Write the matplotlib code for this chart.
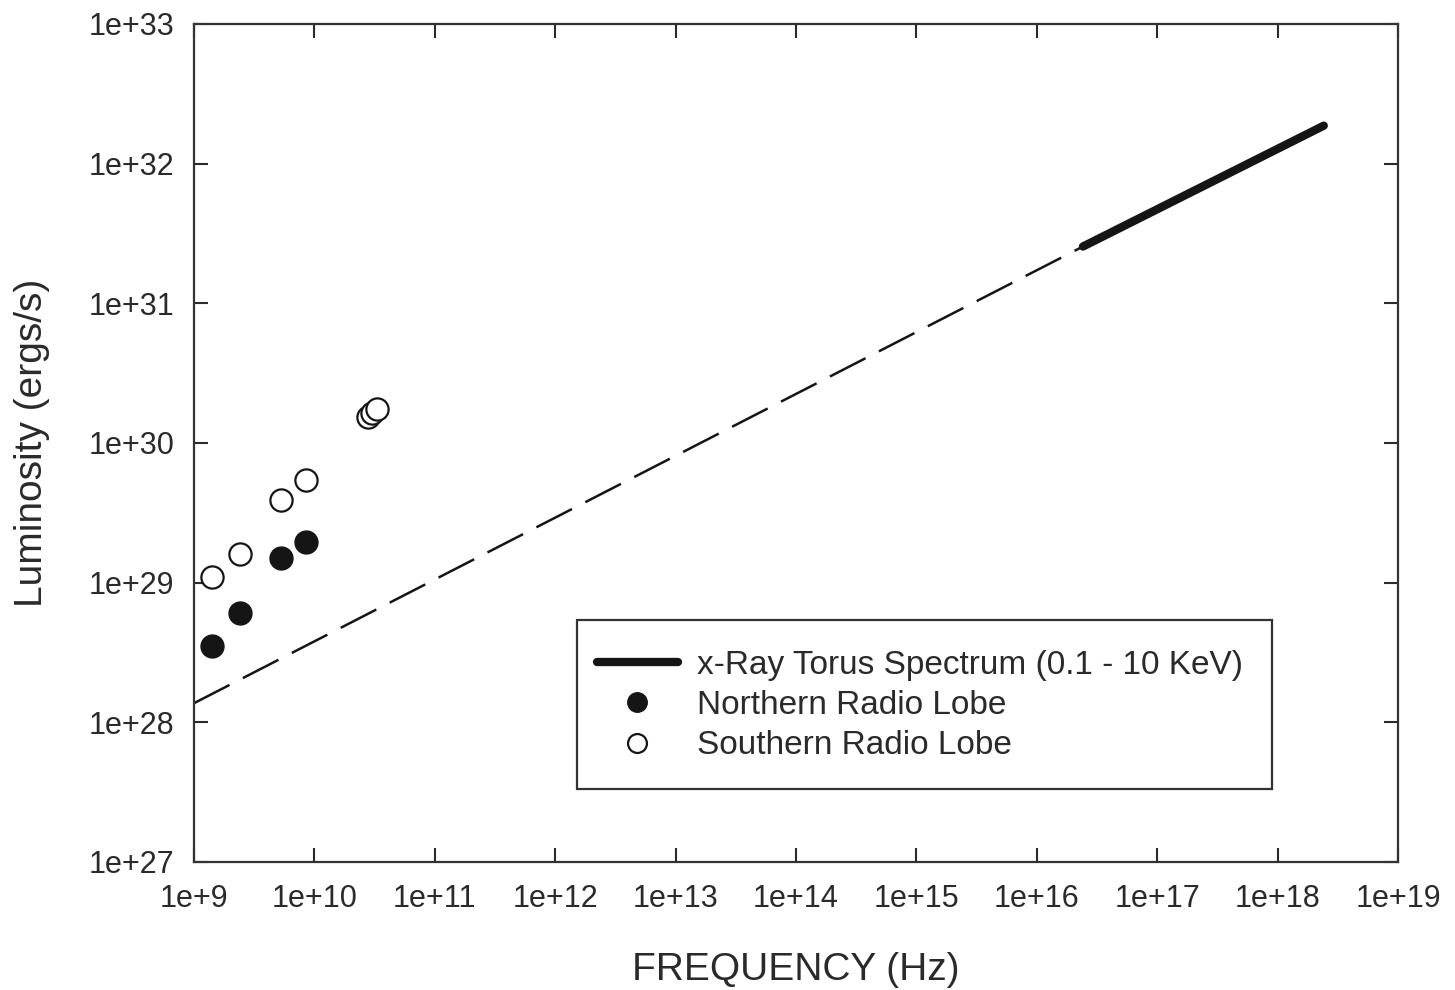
import numpy as np
import matplotlib
matplotlib.use("Agg")
import matplotlib.pyplot as plt
from matplotlib.ticker import FixedLocator, FuncFormatter, NullLocator
from matplotlib.patches import Rectangle

plt.rcParams["font.family"] = ["Liberation Sans", "DejaVu Sans"]

# Radio lobe measurements (Hz, ergs/s)
north_freq = [1.4e9, 2.4e9, 5.3e9, 8.5e9]
north_lum = [3.5e28, 6.1e28, 1.51e29, 1.96e29]

south_freq = [1.4e9, 2.4e9, 5.3e9, 8.5e9, 2.8e10, 3.0e10, 3.3e10]
south_lum = [1.1e29, 1.61e29, 3.92e29, 5.4e29, 1.53e30, 1.64e30, 1.75e30]

# power-law extrapolation of torus spectrum down to radio
extrap_freq = [1.0e9, 2.42e16]
extrap_lum = [1.37e28, 2.55e31]

# x-ray torus spectrum 0.1 - 10 keV
torus_freq = [2.42e16, 2.42e18]
torus_lum = [2.55e31, 1.87e32]

# decade ticks
x_decades = list(range(9, 20))
y_decades = list(range(27, 34))

TXT = "#2a2a2a"
INK = "#151515"

fig = plt.figure(figsize=(14.55, 9.9), dpi=100)
ax = fig.add_axes([0.1333, 0.1293, 0.8275, 0.8465])

ax.plot(extrap_freq, extrap_lum, color=INK, lw=1.8, dashes=(16, 6))
ax.plot(torus_freq, torus_lum, color=INK, lw=6, solid_capstyle="round",
        label="x-Ray Torus Spectrum (0.1 - 10 KeV)")
ax.plot(north_freq, north_lum, "o", ms=16.5, color=INK, mec=INK,
        label="Northern Radio Lobe")
ax.plot(south_freq, south_lum, "o", ms=16, mfc="white", mec=INK, mew=1.6,
        label="Southern Radio Lobe")

ax.set_xscale("log")
ax.set_yscale("log")
ax.set_xlim(10.0 ** x_decades[0], 10.0 ** x_decades[-1])
ax.set_ylim(10.0 ** y_decades[0], 10.0 ** y_decades[-1])

ax.xaxis.set_major_locator(FixedLocator([10.0 ** d for d in x_decades]))
ax.yaxis.set_major_locator(FixedLocator([10.0 ** d for d in y_decades]))
ax.xaxis.set_minor_locator(NullLocator())
ax.yaxis.set_minor_locator(NullLocator())
fmt = FuncFormatter(lambda v, p: "1e+%d" % int(round(np.log10(v))))
ax.xaxis.set_major_formatter(fmt)
ax.yaxis.set_major_formatter(fmt)

ax.tick_params(which="major", direction="in", length=10, width=1.5,
               top=True, right=True, labelsize=22, colors=TXT)
ax.tick_params(axis="x", pad=16)
ax.tick_params(axis="y", pad=14)
for sp in ax.spines.values():
    sp.set_linewidth(1.6)
    sp.set_color("#333333")

ax.set_xlabel("FREQUENCY (Hz)", fontsize=28, color=TXT, labelpad=27)
ax.set_ylabel("Luminosity (ergs/s)", fontsize=28, color=TXT, labelpad=28)

leg = ax.legend(loc="center left", bbox_to_anchor=(0.3347, 0.1868),
                frameon=False, fontsize=24, handlelength=2.43,
                handletextpad=0.57, labelspacing=0.28, borderpad=0,
                borderaxespad=0, markerscale=0.85)
for t in leg.get_texts():
    t.set_color(TXT)

# legend frame
ax.add_patch(Rectangle((0.318, 0.0871), 0.577, 0.2017, transform=ax.transAxes,
                       fill=False, lw=1.6, ec="#333333", zorder=5))

fig.savefig("out.png", dpi=100)
